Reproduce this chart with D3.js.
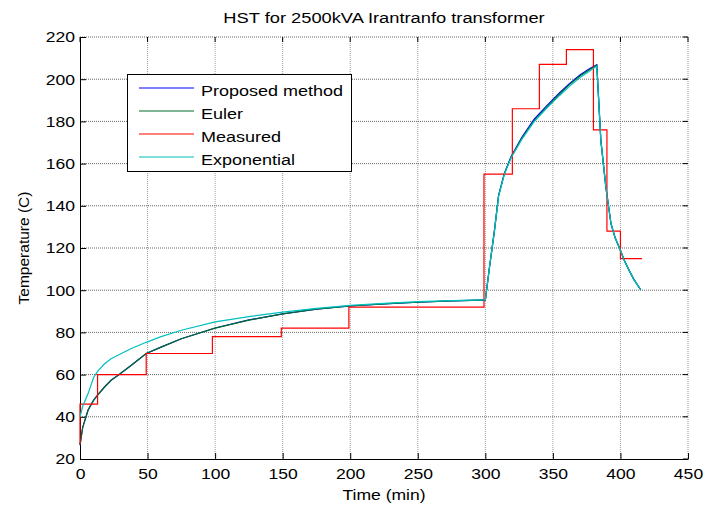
<!DOCTYPE html>
<html>
<head>
<meta charset="utf-8">
<script src="https://cdn.jsdelivr.net/npm/d3@7"></script>
<style>
  body { margin: 0; background: #fff; }
  svg { display: block; font-family: "Liberation Sans", Arial, sans-serif; }
</style>
</head>
<body>
<div id="chart"></div>
<script>
// model curves share one time grid (min)
const times = [0, 2, 6, 10, 13, 18, 23, 28, 38, 49, 60, 75, 100, 125, 150, 175, 200, 225, 250, 275, 298,
    300, 303, 306.7, 309.8, 314, 319, 327, 336, 345, 355, 362, 370, 377, 382.5,
    385.5, 389.2, 393, 396, 399.5, 403, 406.4, 410, 415];

const euler = [26.6, 35, 43.2, 47.8, 50.3, 54, 57.3, 59.6, 64.4, 70, 73, 77, 82, 85.8, 88.8, 91, 92.5, 93.5, 94.3, 94.9, 95.3,
    95.3, 110.5, 128, 144.8, 155, 163, 172, 180.3, 186.5, 193, 197.3, 201.5, 204.5, 206.6,
    171, 149, 131.5, 125, 119.6, 114, 109.4, 105, 100.2];

const proposed = [26.6, 35, 43.2, 47.8, 50.3, 54, 57.3, 59.6, 64.4, 70, 73, 77, 82.1, 85.9, 88.8, 91, 92.5, 93.5, 94.3, 94.9, 95.3,
    95.3, 110.5, 128, 144.8, 155.2, 163.3, 172.5, 180.9, 187.1, 193.6, 197.8, 202, 204.9, 206.8,
    171, 149, 131.5, 125, 119.6, 114, 109.4, 105, 100.2];

const exponential = [40, 45, 51, 58.5, 61.5, 65, 67.5, 69.2, 72.4, 75.3, 78, 81, 85, 87.5, 89.6, 91.4, 92.8, 93.8, 94.6, 95.1, 95.4,
    95.4, 110.5, 128, 144.5, 154.8, 162.7, 171.5, 179.8, 186, 192.3, 196.5, 200.8, 203.8, 206.2,
    171, 149, 131.5, 125, 119.6, 114, 109.4, 105, 100.2];

// measured hot-spot temperature, stepwise
const measuredTimes = [0, 0, 13, 49, 98, 149, 199, 299, 320, 340, 360, 380, 390, 400, 416];
const measuredTemps = [27, 46, 60, 70, 78, 82, 92, 155, 186, 207, 214, 176, 128, 115, 115];

const xTicks = [0, 50, 100, 150, 200, 250, 300, 350, 400, 450];
const yTicks = [20, 40, 60, 80, 100, 120, 140, 160, 180, 200, 220];

const seriesNames = ["Proposed method", "Euler", "Measured", "Exponential"];
const seriesColors = ["#0000ff", "#006f28", "#ff0000", "#00bfbf"];

const width = 706, height = 507;
const plotLeft = 80, plotRight = 688, plotTop = 37, plotBottom = 459;
const stretch = 1.17; // text in the reference is a bit wide

const x = d3.scaleLinear().domain([0, 450]).range([plotLeft, plotRight]);
const y = d3.scaleLinear().domain([20, 220]).range([plotBottom, plotTop]);

const svg = d3.select("#chart").append("svg")
    .attr("width", width)
    .attr("height", height);

// grid
svg.append("g")
    .selectAll("line")
    .data(xTicks.slice(1))
    .join("line")
    .attr("x1", d => x(d)).attr("x2", d => x(d))
    .attr("y1", plotTop).attr("y2", plotBottom)
    .attr("stroke", "#999")
    .attr("stroke-dasharray", "1,1");

svg.append("g")
    .selectAll("line")
    .data(yTicks.slice(1))
    .join("line")
    .attr("x1", plotLeft).attr("x2", plotRight)
    .attr("y1", d => y(d)).attr("y2", d => y(d))
    .attr("stroke", "#666")
    .attr("stroke-dasharray", "1,1");

// axes
const xAxis = svg.append("g")
    .attr("transform", `translate(0,${plotBottom})`)
    .call(d3.axisBottom(x).tickValues(xTicks).tickSizeInner(-6).tickSizeOuter(0).tickPadding(9));
const yAxis = svg.append("g")
    .attr("transform", `translate(${plotLeft},0)`)
    .call(d3.axisLeft(y).tickValues(yTicks).tickSizeInner(-6).tickSizeOuter(0).tickPadding(5));

[xAxis, yAxis].forEach(g => {
    g.select(".domain").attr("stroke", "#000");
    g.selectAll(".tick line").attr("stroke", "#000");
    g.selectAll("text")
        .attr("fill", "#000")
        .style("font-size", "15px")
        .style("font-family", "'Liberation Sans', Arial, sans-serif");
});
xAxis.selectAll("text").attr("transform", `scale(${stretch},1)`);
yAxis.selectAll("text").attr("x", -5 / stretch).attr("transform", `scale(${stretch},1)`);

// inner ticks on top and right
svg.append("g")
    .selectAll("line")
    .data(xTicks)
    .join("line")
    .attr("x1", d => x(d)).attr("x2", d => x(d))
    .attr("y1", plotTop).attr("y2", plotTop + 5)
    .attr("stroke", "#000");
svg.append("g")
    .selectAll("line")
    .data(yTicks)
    .join("line")
    .attr("x1", plotRight - 5).attr("x2", plotRight)
    .attr("y1", d => y(d)).attr("y2", d => y(d))
    .attr("stroke", "#000");

// lines
const line = d3.line().x(d => x(d[0])).y(d => y(d[1]));
const stepLine = d3.line().x(d => x(d[0])).y(d => y(d[1])).curve(d3.curveStepAfter);

const series = [
    d3.zip(times, proposed),
    d3.zip(times, euler),
    d3.zip(measuredTimes, measuredTemps),
    d3.zip(times, exponential)
];

svg.append("g")
    .attr("fill", "none")
    .attr("stroke-width", 1.2)
    .selectAll("path")
    .data(series)
    .join("path")
    .attr("stroke", (d, i) => seriesColors[i])
    .attr("d", (d, i) => i === 2 ? stepLine(d) : line(d));

// title and axis labels
svg.append("text")
    .attr("transform", `translate(${(plotLeft + plotRight) / 2},23) scale(1.18,1)`)
    .attr("text-anchor", "middle")
    .style("font-size", "15.5px")
    .text("HST for 2500kVA Irantranfo transformer");

svg.append("text")
    .attr("transform", `translate(${(plotLeft + plotRight) / 2},500) scale(${stretch},1)`)
    .attr("text-anchor", "middle")
    .style("font-size", "15px")
    .text("Time (min)");

svg.append("text")
    .attr("transform", `translate(29,${(plotTop + plotBottom) / 2}) rotate(-90)`)
    .attr("text-anchor", "middle")
    .style("font-size", "15.5px")
    .text("Temperature (C)");

// legend
const legend = svg.append("g");
legend.append("rect")
    .attr("x", 127.5).attr("y", 74.5)
    .attr("width", 224).attr("height", 97)
    .attr("fill", "#fff")
    .attr("stroke", "#000");

const rows = legend.selectAll("g")
    .data(seriesNames)
    .join("g")
    .attr("transform", (d, i) => `translate(0,${88 + i * 23})`);
rows.append("line")
    .attr("x1", 139).attr("x2", 194)
    .attr("stroke", (d, i) => seriesColors[i])
    .attr("stroke-width", 1.2);
rows.append("text")
    .attr("transform", "translate(201,7.5) scale(1.2,1)")
    .style("font-size", "15px")
    .text(d => d);
</script>
</body>
</html>
